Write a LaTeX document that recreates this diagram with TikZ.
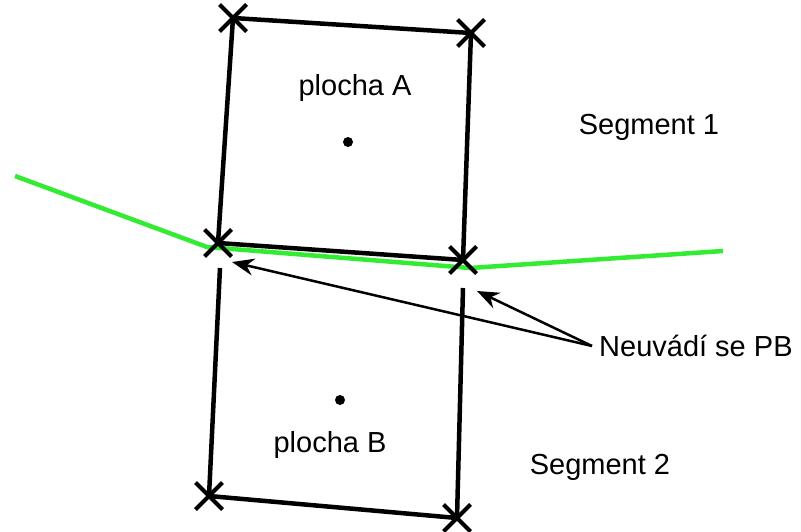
\documentclass[tikz,border=0pt]{standalone}
\usepackage{fontspec}
\setmainfont{Liberation Sans}
\usetikzlibrary{shapes.misc,arrows.meta}
\definecolor{borderGreen}{RGB}{51,235,51}

\begin{document}
\begin{tikzpicture}[x=1pt,y=-1pt,
	edge/.style={line width=4.5pt,black},
	corner/.style={cross out,draw,line width=4pt,minimum size=23pt,inner sep=0pt},
	label/.style={font=\fontsize{29}{35}\selectfont,inner sep=0pt},
	centroid/.style={circle,fill,inner sep=0pt,minimum size=10pt},
	pointer/.style={line width=2.5pt,-{Stealth[length=22pt,width=17pt]}}]
	\useasboundingbox (0,0) rectangle (801,532);
	% corners of plocha A
	\coordinate (A1) at (233,18);
	\coordinate (A2) at (471,33);
	\coordinate (A3) at (463,260);
	\coordinate (A4) at (218,243);
	% corners of plocha B (top edge not drawn)
	\coordinate (B1) at (220,268);
	\coordinate (B2) at (463,288);
	\coordinate (B3) at (457,518);
	\coordinate (B4) at (209,496);
	% segment border
	\coordinate (G1) at (15,176);
	\coordinate (G2) at (207,247);
	\coordinate (G3) at (470,268);
	\coordinate (G4) at (723,251);
	
	\draw[borderGreen,line width=4.5pt] (G1) -- (G2) -- (G3) -- (G4);
	\draw[edge] (A1) -- (A2) -- (A3) -- (A4) -- cycle;
	\draw[edge] (B1) -- (B4) -- (B3) -- (B2);
	\foreach \c in {A1,A2,A3,A4,B3,B4}
		\node[corner] at (\c) {};
	
	\node[centroid] (cA) at (348,142) {};
	\node[centroid] (cB) at (340,400) {};
	\node[label] (plochaA) at (355,88) {plocha A};
	\node[label] (plochaB) at (330,445) {plocha B};
	\node[label] (seg1) at (649,127) {Segment 1};
	\node[label] (seg2) at (600,467) {Segment 2};
	\node[label,anchor=west] (note) at (599,346) {Neuvádí se PB};
	
	\draw[pointer] ([xshift=-7pt]note.west) -- (232,262);
	\draw[pointer] ([xshift=-7pt]note.west) -- (477,291);
\end{tikzpicture}
\end{document}
